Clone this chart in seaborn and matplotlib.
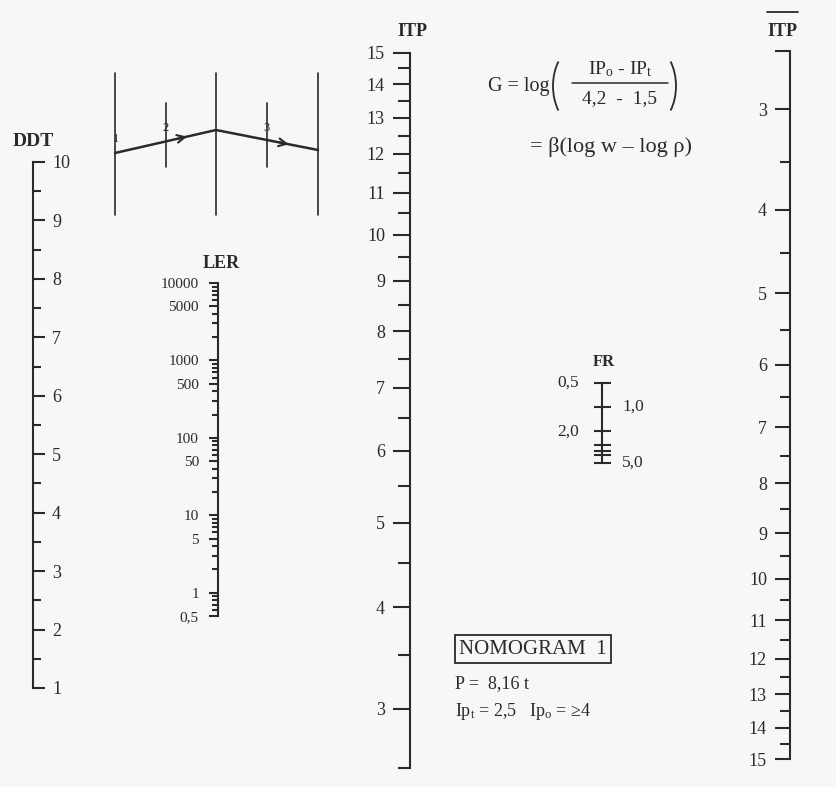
import numpy as np
import matplotlib
matplotlib.use("Agg")
import matplotlib.pyplot as plt
import seaborn as sns
from matplotlib.patches import Arc
from matplotlib.ticker import LogLocator, NullFormatter

W, H = 837, 787
INK = "#2a2a2a"
PAPER = "#f7f7f5"
LW = 1.5

# ---- scale values ----
ddt_major = [1, 2, 3, 4, 5, 6, 7, 8, 9, 10]
ddt_minor = [1.5, 2.5, 3.5, 4.5, 5.5, 6.5, 7.5, 8.5, 9.5]

ler_major = [0.5, 1, 5, 10, 50, 100, 500, 1000, 5000, 10000]
ler_labels = ["0,5", "1", "5", "10", "50", "100", "500", "1000", "5000", "10000"]

itp_major = [3, 4, 5, 6, 7, 8, 9, 10, 11, 12, 13, 14, 15]
itp_minor = [2.5, 3.5, 4.5, 5.5, 6.5, 7.5, 8.5, 9.5, 10.5, 11.5, 12.5, 13.5, 14.5]

fr_ticks = [0.5, 1.0, 2.0, 3.0, 3.5, 4.0, 5.0]
fr_left_vals = [0.5, 2.0]
fr_left_text = ["0,5", "2,0"]
fr_right_vals = [1.0, 5.0]
fr_right_text = ["1,0", "5,0"]

# ---- little key diagram (top left), canvas pixels ----
guide_x = [115, 216, 318]
guide_span = (73, 215)
short_x = [166, 267]
short_span = (103, 167)
path_x = [115, 216, 318]
path_y = [153, 130, 150]
guide_labels = ["1", "2", "3"]
guide_label_x = [116, 166, 267]
guide_label_y = [139, 128, 128]

sns.set_theme(style="white")
plt.rcParams["font.family"] = ["Liberation Serif", "DejaVu Serif"]
plt.rcParams["mathtext.fontset"] = "custom"
plt.rcParams["mathtext.rm"] = "Liberation Serif"
plt.rcParams["mathtext.it"] = "Liberation Serif:italic"
plt.rcParams["text.color"] = INK

fig = plt.figure(figsize=(W / 100, H / 100), dpi=100, facecolor=PAPER)
canvas = fig.add_axes([0, 0, 1, 1])
canvas.set_xlim(0, W)
canvas.set_ylim(H, 0)
canvas.axis("off")


def pt(px):
    return px * 72 / 100


def make_scale(x, top, bottom, side):
    ax = fig.add_axes([x / W, 1 - bottom / H, 1e-4, (bottom - top) / H])
    ax.patch.set_visible(False)
    ax.set_xticks([])
    for name, sp in ax.spines.items():
        sp.set_visible(name == side)
        sp.set_linewidth(LW)
        sp.set_color(INK)
    ax.yaxis.set_ticks_position(side)
    ax.grid(False)
    return ax


def style_ticks(ax, major_len, minor_len, size, pad, direction="out"):
    ax.tick_params(axis="y", which="major", length=pt(major_len), width=LW,
                   color=INK, labelsize=size, labelcolor=INK, pad=pt(pad),
                   direction=direction)
    ax.tick_params(axis="y", which="minor", length=pt(minor_len), width=LW,
                   color=INK, direction=direction)
    ax.yaxis.set_minor_formatter(NullFormatter())


def itp_fwd(v):
    return np.log10(np.asarray(v, dtype=float) + 1.5)


def itp_inv(u):
    return 10 ** np.asarray(u, dtype=float) - 1.5


# DDT: linear scale, ticks and labels to the right
ax_ddt = make_scale(33, 162, 688, "right")
ax_ddt.set_ylim(1, 10)
ax_ddt.set_yticks(ddt_major)
ax_ddt.set_yticks(ddt_minor, minor=True)
style_ticks(ax_ddt, 12, 8, 13, 7)
canvas.text(33, 142, "DDT", ha="center", va="center", fontsize=14, fontweight="bold")

# LER: log scale
ax_ler = make_scale(218, 283, 616, "left")
ax_ler.set_yscale("log")
ax_ler.set_ylim(0.5, 10000)
ax_ler.set_yticks(ler_major)
ax_ler.set_yticklabels(ler_labels)
ax_ler.yaxis.set_minor_locator(LogLocator(base=10, subs=np.arange(2, 10), numticks=50))
style_ticks(ax_ler, 9, 6, 11, 10)
canvas.text(221, 263, "LER", ha="center", va="center", fontsize=13, fontweight="bold")

# ITP (centre)
ax_itp = make_scale(410, 52.7, 768, "left")
ax_itp.set_yscale("function", functions=(itp_fwd, itp_inv))
ax_itp.set_ylim(2.5, 15)
ax_itp.set_yticks(itp_major)
ax_itp.set_yticklabels([str(v) for v in itp_major])
ax_itp.set_yticks(itp_minor, minor=True)
style_ticks(ax_itp, 17, 12, 13, 8)
canvas.text(412, 31, "ITP", ha="center", va="center", fontsize=13, fontweight="bold")

# ITP bar (right, reversed)
ax_itpb = make_scale(790, 50.6, 759, "left")
ax_itpb.set_yscale("function", functions=(itp_fwd, itp_inv))
ax_itpb.set_ylim(15, 2.5)
ax_itpb.set_yticks([2.5] + itp_major)
ax_itpb.set_yticklabels([""] + [str(v) for v in itp_major])
ax_itpb.set_yticks(itp_minor[1:], minor=True)
style_ticks(ax_itpb, 15, 10, 13, 8)
canvas.text(782, 31, "ITP", ha="center", va="center", fontsize=13, fontweight="bold")
canvas.plot([767, 798], [12, 12], color=INK, lw=1.3)

# FR: short log scale, 0,5 at the top, ticks across the line
ax_fr = make_scale(602, 383, 463, "left")
ax_fr.set_yscale("log")
ax_fr.set_ylim(5, 0.5)
ax_fr.set_yticks(fr_ticks)
ax_fr.set_yticklabels([""] * len(fr_ticks))
ax_fr.yaxis.set_minor_locator(LogLocator(base=10, subs=[]))
style_ticks(ax_fr, 17, 0, 12, 0, direction="inout")
for v, s in zip(fr_left_vals, fr_left_text):
    ax_fr.annotate(s, xy=(0, v), xycoords=ax_fr.get_yaxis_transform(),
                   xytext=(-pt(23), 0), textcoords="offset points",
                   ha="right", va="center", fontsize=12.5, color=INK)
for v, s in zip(fr_right_vals, fr_right_text):
    ax_fr.annotate(s, xy=(0, v), xycoords=ax_fr.get_yaxis_transform(),
                   xytext=(pt(20), 0), textcoords="offset points",
                   ha="left", va="center", fontsize=12.5, color=INK)
canvas.text(604, 362, "FR", ha="center", va="center", fontsize=12, fontweight="bold")

# key diagram
for gx in guide_x:
    canvas.plot([gx, gx], guide_span, color=INK, lw=1.2)
for sx in short_x:
    canvas.plot([sx, sx], short_span, color=INK, lw=1.2)
sns.lineplot(x=path_x, y=path_y, ax=canvas, color=INK, lw=1.8, sort=False)
for i in range(2):
    x0, x1 = path_x[i], path_x[i + 1]
    y0, y1 = path_y[i], path_y[i + 1]
    hx, hy = x0 + 0.74 * (x1 - x0), y0 + 0.74 * (y1 - y0)
    tx, ty = x0 + 0.6 * (x1 - x0), y0 + 0.6 * (y1 - y0)
    canvas.annotate("", xy=(hx, hy), xytext=(tx, ty),
                    arrowprops=dict(arrowstyle="->", color=INK, lw=1.5,
                                    mutation_scale=14))
for s, lx, ly in zip(guide_labels, guide_label_x, guide_label_y):
    canvas.text(lx, ly, s, ha="center", va="center", fontsize=9)

# formula
canvas.text(550, 87, "G = log", ha="right", va="center", fontsize=14.5)
canvas.add_patch(Arc((579, 86), 52, 80, theta1=130, theta2=230, color=INK, lw=1.3))
canvas.add_patch(Arc((650, 86), 52, 80, theta1=-50, theta2=50, color=INK, lw=1.3))
canvas.text(620, 69, r"IP$_\mathrm{o}$ - IP$_\mathrm{t}$", ha="center", va="center",
            fontsize=14)
canvas.plot([572, 668], [83, 83], color=INK, lw=1.1)
canvas.text(620, 99, "4,2  -  1,5", ha="center", va="center", fontsize=14)
canvas.text(611, 147, "= β(log w – log ρ)", ha="center", va="center", fontsize=16)

# info block
canvas.text(459, 649, "NOMOGRAM  1", ha="left", va="center", fontsize=15,
            bbox=dict(boxstyle="square,pad=0.2", facecolor="none", edgecolor=INK, lw=1.3))
canvas.text(455, 684, "P =  8,16 t", ha="left", va="center", fontsize=13)
canvas.text(455, 711, r"Ip$_\mathrm{t}$ = 2,5   Ip$_\mathrm{o}$ = ≥4", ha="left",
            va="center", fontsize=13)

fig.savefig("out.png", dpi=100, facecolor=PAPER)
